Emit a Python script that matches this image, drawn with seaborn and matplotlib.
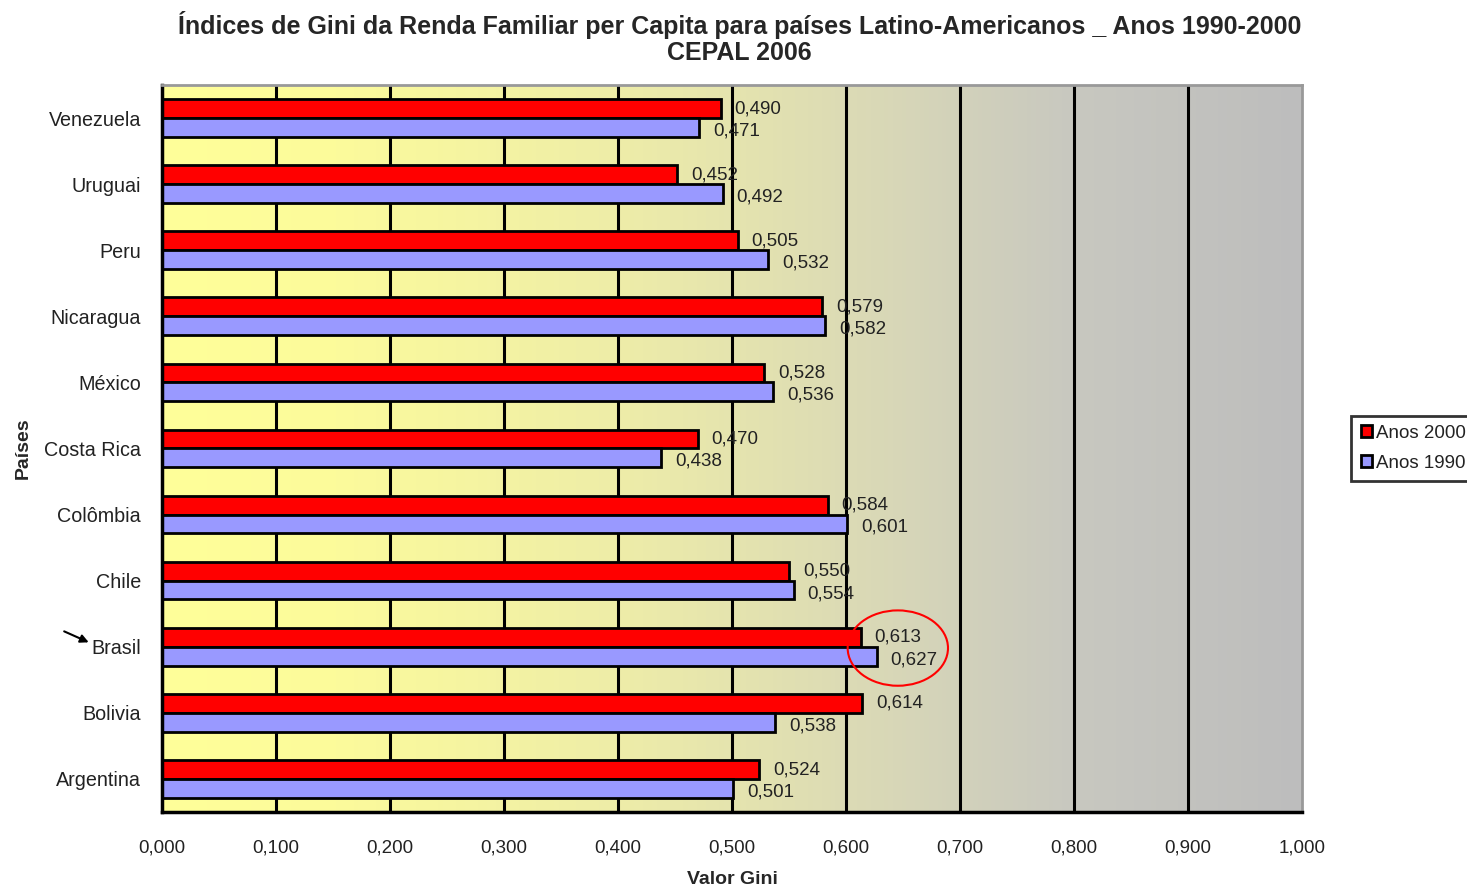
import matplotlib
matplotlib.use("Agg")
import matplotlib.pyplot as plt
from matplotlib.colors import LinearSegmentedColormap
from matplotlib.patches import Ellipse
import seaborn as sns
import numpy as np
import pandas as pd

countries = ['Venezuela', 'Uruguai', 'Peru', 'Nicaragua', 'México', 'Costa Rica',
             'Colômbia', 'Chile', 'Brasil', 'Bolivia', 'Argentina']
anos_2000 = [0.490, 0.452, 0.505, 0.579, 0.528, 0.470, 0.584, 0.550, 0.613, 0.614, 0.524]
anos_1990 = [0.471, 0.492, 0.532, 0.582, 0.536, 0.438, 0.601, 0.554, 0.627, 0.538, 0.501]
series = ['Anos 2000', 'Anos 1990']
colors = ['#FF0000', '#9999FF']
xticks = np.arange(0, 1.01, 0.1)

df = pd.concat([
    pd.DataFrame({'País': countries, 'Gini': anos_2000, 'Período': series[0]}),
    pd.DataFrame({'País': countries, 'Gini': anos_1990, 'Período': series[1]}),
])

sns.set_style('white')
plt.rcParams['font.family'] = ['Liberation Sans', 'DejaVu Sans']

fig = plt.figure(figsize=(14.67, 8.91), dpi=100)
ax = fig.add_axes([0.1104, 0.0887, 0.7771, 0.8159])

# background gradient yellow -> gray
bg = LinearSegmentedColormap.from_list('bg', [
    (0.0, '#FFFF99'), (0.15, '#FCFB9B'), (0.4, '#EEEDA8'),
    (0.6, '#DCDBB5'), (0.8, '#C8C8C0'), (1.0, '#BDBDBD')])
ax.imshow(np.linspace(0, 1, 256).reshape(1, -1), cmap=bg, aspect='auto',
          extent=[0, 1, 10.5, -0.5], zorder=0)

for x in xticks[1:-1]:
    ax.axvline(x, color='black', lw=2.2, zorder=1)

sns.barplot(data=df, y='País', x='Gini', hue='Período', hue_order=series,
            order=countries, palette=colors, width=0.57, orient='h',
            edgecolor='black', linewidth=2, saturation=1, ax=ax, zorder=2,
            legend=True)

for i, cont in enumerate(ax.containers):
    vals = cont.datavalues
    labs = ax.bar_label(cont, labels=[f'{v:.3f}'.replace('.', ',') for v in vals],
                        padding=10, fontsize=13.5, color='#222222')
    if i == 1:
        # 1990 labels sit a little below their bars in the original
        for t in labs:
            t.xyann = (10, -2.5)

ax.set_xlim(0, 1)
ax.set_ylim(10.5, -0.5)
ax.set_xticks(xticks)
ax.set_xticklabels([f'{v:.3f}'.replace('.', ',') for v in xticks], fontsize=13.5, color='#222222')
ax.set_yticks(np.arange(len(countries)))
ax.set_yticklabels(countries, fontsize=14.2, color='#222222')
ax.tick_params(axis='y', length=0, pad=15)
ax.set_yticks(np.arange(-0.5, len(countries)), minor=True)
ax.tick_params(axis='y', which='minor', length=6, width=2, color='black', direction='out')
ax.tick_params(axis='x', length=6, width=2, color='black', direction='out', pad=14)

for side in ['left', 'bottom']:
    ax.spines[side].set_color('black')
    ax.spines[side].set_linewidth(2.5)
for side in ['top', 'right']:
    ax.spines[side].set_color('#999999')
    ax.spines[side].set_linewidth(2)
    ax.spines[side].set_visible(True)

ax.set_xlabel('Valor Gini', fontsize=14, fontweight='bold', labelpad=10)
ax.set_ylabel('Países', fontsize=14, fontweight='bold', labelpad=9)
ax.set_title('Índices de Gini da Renda Familiar per Capita para países Latino-Americanos _ Anos 1990-2000\nCEPAL 2006',
             fontsize=18, fontweight='bold', pad=18, linespacing=1.1, x=0.5065)

leg = ax.legend(loc='center left', bbox_to_anchor=(1.035, 0.5), frameon=True,
                fancybox=False, edgecolor='black', fontsize=13.5,
                handlelength=0.6, handleheight=0.6, handletextpad=0.2,
                borderpad=0.5, labelspacing=0.7)
leg.get_frame().set_linewidth(2)
for t in leg.get_texts():
    t.set_color('#222222')

# highlight Brasil
bi = countries.index('Brasil')
ax.add_patch(Ellipse((0.6455, bi + 0.02), 0.088, 1.14, fill=False,
                     edgecolor='red', lw=1.5, zorder=4, clip_on=False))
ax.annotate('', xy=(-0.062, bi - 0.05), xytext=(-0.088, bi - 0.25),
            xycoords='data', annotation_clip=False,
            arrowprops=dict(arrowstyle='-|>', color='black', lw=1.5,
                            mutation_scale=12))

fig.savefig('out.png', dpi=100)
